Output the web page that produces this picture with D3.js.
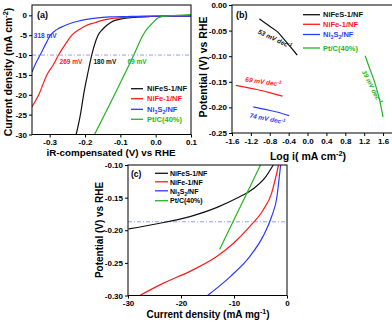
<!DOCTYPE html>
<html><head><meta charset="utf-8">
<script src="https://cdn.jsdelivr.net/npm/d3@7"></script>
<style>
body{margin:0;background:#fff;}
svg text{font-family:"Liberation Sans",Arial,sans-serif;font-weight:bold;}
</style></head>
<body><svg id="c" width="392" height="322"></svg>
<script>
// ---------- DATA ----------
const seriesNames = ["NiFeS-1/NF","NiFe-1/NF","Ni3S2/NF","Pt/C(40%)"];
// Panel (a): potential (V) vs current density (mA cm-2)
const aNiFeS_v = [-0.225,-0.213,-0.204,-0.193,-0.181,-0.163,-0.15,-0.138,-0.119,-0.09,-0.06,-0.015,0.05,0.1];
const aNiFeS_j = [-30,-25,-20,-15,-10,-5,-3.5,-2.5,-1.4,-0.8,-0.5,-0.3,-0.2,-0.2];
const aNiFe_v = [-0.35,-0.34,-0.331,-0.308,-0.29,-0.275,-0.255,-0.237,-0.215,-0.195,-0.17,-0.157,-0.13,-0.11,-0.07,0,0.1];
const aNiFe_j = [-23,-21.5,-20,-15,-12.5,-10,-7.2,-5,-3.5,-2.5,-1.8,-1.4,-0.9,-0.7,-0.4,-0.2,-0.2];
const aNi3S2_v = [-0.35,-0.34,-0.327,-0.31,-0.298,-0.28,-0.26,-0.24,-0.22,-0.2,-0.17,-0.13,-0.08,0,0.1];
const aNi3S2_j = [-14.3,-12.2,-10,-7,-5,-3.6,-2.7,-2.0,-1.5,-1.1,-0.7,-0.4,-0.3,-0.2,-0.2];
const aPt_v = [-0.173,-0.062,-0.036,-0.025,-0.015,-0.004,0.004,0.015,0.03,0.06,0.1];
const aPt_j = [-30,-10,-5,-3.5,-2.5,-1.5,-0.8,-0.4,-0.2,0.0,0.2];
const aRefLine = -10;
const aOverpot = ["180 mV","269 mV","318 mV","69 mV"];
const aXTicks = [-0.3,-0.2,-0.1,0.0,0.1];
const aYTicks = [0,-5,-10,-15,-20,-25,-30];

// Panel (b): Tafel, log i vs potential
const bNiFeS_l = [-1.02,-0.795,-0.64,-0.513,-0.37,-0.217];
const bNiFeS_p = [-0.027,-0.042,-0.052,-0.065,-0.081,-0.098];
const bNiFe_l = [-1.52,-1.3,-1.08,-0.8,-0.53];
const bNiFe_p = [-0.157,-0.161,-0.165,-0.171,-0.178];
const bNi3S2_l = [-1.15,-0.9,-0.65,-0.39];
const bNi3S2_p = [-0.199,-0.204,-0.209,-0.216];
const bPt_l = [1.22,1.32,1.43,1.52,1.6];
const bPt_p = [-0.099,-0.125,-0.153,-0.183,-0.219];
const bSlopes = ["53 mV dec","69 mV dec","74 mV dec","39 mV dec"];
const bXTicks = [-1.6,-1.2,-0.8,-0.4,0.0,0.4,0.8,1.2,1.6];
const bYTicks = [0,-0.05,-0.10,-0.15,-0.20,-0.25];

// Panel (c): mass activity (mA mg-1) vs potential
const cNiFeS_j = [-29.9,-24.5,-18.3,-13.2,-9.5,-6.3,-4.1,-2.6];
const cNiFeS_p = [-0.198,-0.190,-0.179,-0.165,-0.151,-0.136,-0.119,-0.1];
const cNiFe_j = [-27.8,-23.3,-18.3,-13.2,-10.1,-7.0,-4.5,-2.9,-2.1,-1.6];
const cNiFe_p = [-0.3,-0.281,-0.263,-0.240,-0.220,-0.194,-0.169,-0.143,-0.118,-0.1];
const cNi3S2_j = [-15.0,-10.7,-7.0,-4.5,-2.9,-1.9,-1.45,-1.2];
const cNi3S2_p = [-0.3,-0.271,-0.240,-0.209,-0.179,-0.149,-0.118,-0.1];
const cPt_j = [-12.7,-5.0];
const cPt_p = [-0.229,-0.1];
const cRefLine = -0.187;
const cXTicks = [-30,-20,-10,0];
const cYTicks = [-0.10,-0.15,-0.20,-0.25,-0.30];

// ---------- STYLE ----------
const colors = ["#111111","#ff1a1a","#2a3cff","#22b522"];
const svg = d3.select("#c");
const zip = (xs, ys) => xs.map((x,i)=>[x, ys[i]]);
const hy = s => s.replace(/\u2212/g,"-");

function frame(g, x, y){
  const [x0,x1] = x.range(), [y0,y1] = y.range();
  g.append("rect").attr("x",x0).attr("y",y1).attr("width",x1-x0).attr("height",y0-y1)
   .attr("fill","none").attr("stroke","#000").attr("stroke-width",1);
}
function axes(x, y, xt, yt, xf, yf){
  const gx = svg.append("g").attr("transform",`translate(0,${y.range()[0]})`)
    .call(d3.axisBottom(x).tickValues(xt).tickSize(3).tickPadding(2).tickFormat(d=>hy(d3.format(xf)(d))));
  const gy = svg.append("g").attr("transform",`translate(${x.range()[0]},0)`)
    .call(d3.axisLeft(y).tickValues(yt).tickSize(3).tickPadding(2).tickFormat(d=>hy(d3.format(yf)(d))));
  [gx,gy].forEach(g=>{
    g.select(".domain").remove();
    g.selectAll("text").attr("font-size",8).attr("font-family","Liberation Sans, Arial").attr("font-weight","bold").attr("fill","#000");
    g.selectAll("line").attr("stroke","#000");
  });
}
function line(x,y,pts,color){
  svg.append("path").datum(pts).attr("fill","none").attr("stroke",color).attr("stroke-width",1.2)
    .attr("d", d3.line().x(d=>x(d[0])).y(d=>y(d[1])).curve(d3.curveMonotoneX));
}
function clipFor(id,x,y){
  const [x0,x1]=x.range(),[y0,y1]=y.range();
  svg.append("clipPath").attr("id",id).append("rect").attr("x",x0).attr("y",y1).attr("width",x1-x0).attr("height",y0-y1);
}
function nameText(t, i, x, y, size, color){
  const tx = t.append("text").attr("x",x).attr("y",y).attr("font-size",size).attr("fill",color);
  if(i===2){
    tx.append("tspan").text("Ni");
    tx.append("tspan").attr("font-size",size*0.7).attr("dy",2).text("3");
    tx.append("tspan").attr("dy",-2).text("S");
    tx.append("tspan").attr("font-size",size*0.7).attr("dy",2).text("2");
    tx.append("tspan").attr("dy",-2).text("/NF");
  } else tx.text(seriesNames[i]);
  return tx;
}
function legend(x0, x1, tx, ys, size, colored){
  ys.forEach((yy,i)=>{
    svg.append("line").attr("x1",x0).attr("x2",x1).attr("y1",yy).attr("y2",yy).attr("stroke",colors[i]).attr("stroke-width",1.3);
    nameText(svg, i, tx, yy+2.7, size, colored?colors[i]:"#000");
  });
}
function sup(t, base, s, size){
  t.append("tspan").text(base);
  t.append("tspan").attr("font-size",size*0.7).attr("dy",-size*0.4).text(s);
}

// ---------- PANEL (a) ----------
const aX = d3.scaleLinear([-0.35,0.1],[32,191]);
const aY = d3.scaleLinear([-30,2.6],[134.5,5]);
clipFor("ca",aX,aY);
const ga = svg.append("g").attr("clip-path","url(#ca)");
svg.append("line").attr("x1",aX.range()[0]).attr("x2",aX.range()[1]).attr("y1",aY(aRefLine)).attr("y2",aY(aRefLine))
  .attr("stroke","#8fa0f0").attr("stroke-width",1).attr("stroke-dasharray","4,2,1,2");
[[aNiFeS_v,aNiFeS_j],[aNiFe_v,aNiFe_j],[aNi3S2_v,aNi3S2_j],[aPt_v,aPt_j]].forEach(([v,j],i)=>{
  ga.append("path").datum(zip(v,j)).attr("fill","none").attr("stroke",colors[i]).attr("stroke-width",1.2)
   .attr("d", d3.line().x(d=>aX(d[0])).y(d=>aY(d[1])).curve(d3.curveMonotoneX));
});
frame(svg,aX,aY);
axes(aX,aY,aXTicks,aYTicks,".1f","d");
svg.append("text").attr("x",37).attr("y",18).attr("font-size",9).text("(a)");
// overpotential labels near -10 mA cm-2
[[-0.176,-12.2],[-0.272,-12.2],[-0.345,-5.6],[-0.08,-12.2]].forEach((p,i)=>{
  svg.append("text").attr("x",aX(p[0])).attr("y",aY(p[1])).attr("font-size",6.5).attr("fill",colors[i]).text(aOverpot[i]);
});
legend(131,143,147,[88.7,98.7,109.3,119.3],7.5,true);
svg.append("text").attr("x",111).attr("y",156).attr("text-anchor","middle").attr("font-size",9.8).text("iR-compensated (V) vs RHE");
{ const t = svg.append("text").attr("transform","translate(12,72) rotate(-90)").attr("text-anchor","middle").attr("font-size",10.5);
  sup(t,"Current density (mA cm","-2",10.5); t.append("tspan").attr("dy",10.5*0.4).text(")"); }

// ---------- PANEL (b) ----------
const bX = d3.scaleLinear([-1.6,1.8],[232,392.5]);
const bY = d3.scaleLinear([-0.25,0],[133,5]);
[[bNiFeS_l,bNiFeS_p],[bNiFe_l,bNiFe_p],[bNi3S2_l,bNi3S2_p],[bPt_l,bPt_p]].forEach(([l,p],i)=>line(bX,bY,zip(l,p),colors[i]));
frame(svg,bX,bY);
axes(bX,bY,bXTicks,bYTicks,".1f",".2f");
svg.append("text").attr("x",236).attr("y",18).attr("font-size",9).text("(b)");
[[274,41,25],[263,84,8],[267,121,11],[370,88,63]].forEach((p,i)=>{
  const t = svg.append("text").attr("transform",`translate(${p[0]},${p[1]}) rotate(${p[2]})`).attr("text-anchor","middle")
    .attr("font-size",6.5).attr("font-style","italic").attr("fill",colors[i]);
  sup(t,bSlopes[i],"-1",6.5);
});
legend(303,320,323,[14.7,24.3,34.5,48],7.5,true);
{ const t = svg.append("text").attr("x",308).attr("y",160).attr("text-anchor","middle").attr("font-size",10.5);
  sup(t,"Log i( mA cm","-2",10.5); t.append("tspan").attr("dy",10.5*0.4).text(")"); }
svg.append("text").attr("transform","translate(207,67) rotate(-90)").attr("text-anchor","middle").attr("font-size",10.5).text("Potential (V) vs RHE");

// ---------- PANEL (c) ----------
const cX = d3.scaleLinear([-30,0],[128,287]);
const cY = d3.scaleLinear([-0.3,-0.1],[295.5,165]);
svg.append("line").attr("x1",cX.range()[0]).attr("x2",cX.range()[1]).attr("y1",cY(cRefLine)).attr("y2",cY(cRefLine))
  .attr("stroke","#8fa0f0").attr("stroke-width",1).attr("stroke-dasharray","4,2,1,2");
[[cNiFeS_j,cNiFeS_p],[cNiFe_j,cNiFe_p],[cNi3S2_j,cNi3S2_p],[cPt_j,cPt_p]].forEach(([j,p],i)=>line(cX,cY,zip(j,p),colors[i]));
frame(svg,cX,cY);
axes(cX,cY,cXTicks,cYTicks,"d",".2f");
svg.append("text").attr("x",131).attr("y",177).attr("font-size",8.5).text("(c)");
legend(155,168,170,[173.3,181.8,190.8,200.7],7,false);
{ const t = svg.append("text").attr("x",208).attr("y",318).attr("text-anchor","middle").attr("font-size",10);
  sup(t,"Current density (mA mg","-1",10); t.append("tspan").attr("dy",10*0.4).text(")"); }
svg.append("text").attr("transform","translate(103,230) rotate(-90)").attr("text-anchor","middle").attr("font-size",10).text("Potential (V) vs RHE");
</script></body></html>
